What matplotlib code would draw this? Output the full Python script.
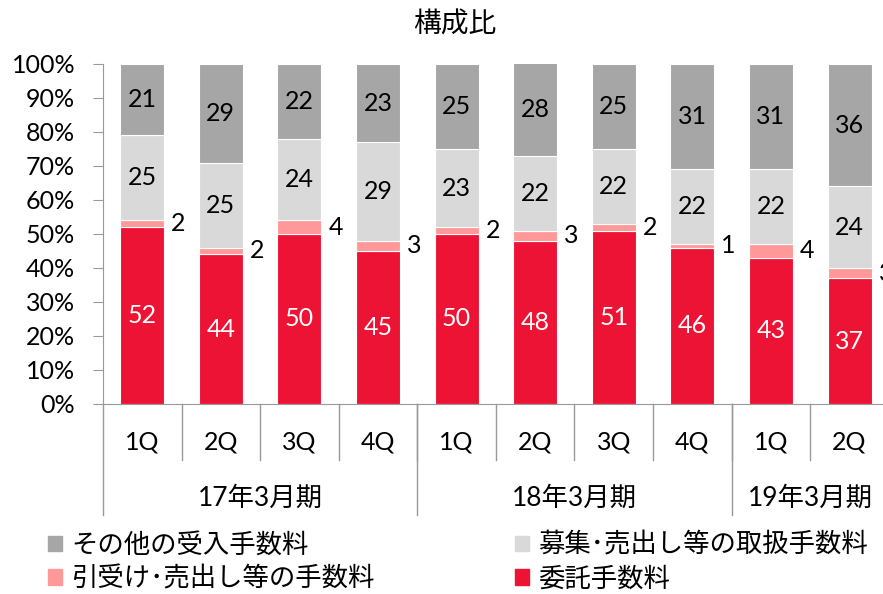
import matplotlib.pyplot as plt
import numpy as np
from matplotlib.patches import Patch
from matplotlib.transforms import blended_transform_factory

plt.rcParams['font.family'] = ['Lato', 'Noto Sans CJK JP']

# data
quarters = ['1Q', '2Q', '3Q', '4Q', '1Q', '2Q', '3Q', '4Q', '1Q', '2Q']
years = ['17年3月期', '18年3月期', '19年3月期']
year_sizes = [4, 4, 2]
itaku = [52, 44, 50, 45, 50, 48, 51, 46, 43, 37]      # 委託手数料
hikiuke = [2, 2, 4, 3, 2, 3, 2, 1, 4, 3]              # 引受け･売出し等の手数料
boshu = [25, 25, 24, 29, 23, 22, 22, 22, 22, 24]      # 募集･売出し等の取扱手数料
sonota = [21, 29, 22, 23, 25, 28, 25, 31, 31, 36]     # その他の受入手数料

c_itaku = '#EC1334'
c_hiki = '#FF9999'
c_boshu = '#D9D9D9'
c_sonota = '#A6A6A6'

num_fs = 18
jp_fs = 19

fig = plt.figure(figsize=(8.83, 5.94), dpi=100)
ax = fig.add_axes([0.1166, 0.3199, 0.890, 0.5724])

x = np.arange(len(quarters))
w = 0.56
a = np.array(itaku)
h = np.array(hikiuke)
b = np.array(boshu)
s = np.array(sonota)

kw = dict(width=w, edgecolor='white', linewidth=0.8)
b1 = ax.bar(x, a, color=c_itaku, **kw)
b2 = ax.bar(x, h, bottom=a, color=c_hiki, **kw)
b3 = ax.bar(x, b, bottom=a + h, color=c_boshu, **kw)
b4 = ax.bar(x, s, bottom=a + h + b, color=c_sonota, **kw)

ax.bar_label(b1, labels=[str(v) for v in itaku], label_type='center', color='white', fontsize=num_fs)
ax.bar_label(b3, labels=[str(v) for v in boshu], label_type='center', color='black', fontsize=num_fs)
ax.bar_label(b4, labels=[str(v) for v in sonota], label_type='center', color='black', fontsize=num_fs)
for i in range(len(x)):
    ax.annotate(str(hikiuke[i]), (x[i] + w / 2, a[i] + h[i] / 2), xytext=(5, 0),
                textcoords='offset points', ha='left', va='center', fontsize=num_fs,
                annotation_clip=False)

ax.set_xlim(-0.5, len(x) - 0.5)
ax.set_ylim(0, 100)
ax.set_yticks(range(0, 101, 10))
ax.set_yticklabels([f'{v}%' for v in range(0, 101, 10)], fontsize=num_fs)
ax.tick_params(axis='y', length=7, color='#999999', pad=13)
ax.spines['top'].set_visible(False)
ax.spines['right'].set_visible(False)
ax.spines['left'].set_color('#999999')
ax.spines['bottom'].set_color('#999999')
ax.set_xticks([])

# two-level x axis
tr = blended_transform_factory(ax.transData, ax.transAxes)
for i in range(1, len(x)):
    ax.plot([i - 0.5, i - 0.5], [0, -0.165], transform=tr, color='#999999', lw=1, clip_on=False)
for i, q in enumerate(quarters):
    ax.text(i, -0.112, q, transform=tr, ha='center', va='center', fontsize=num_fs)
start = 0
for yname, n in zip(years, year_sizes):
    ax.plot([start - 0.5, start - 0.5], [0, -0.326], transform=tr, color='#999999', lw=1, clip_on=False)
    ax.text(start + (n - 1) / 2, -0.276, yname, transform=tr, ha='center', va='center', fontsize=jp_fs)
    start += n

fig.text(0.515, 0.958, '構成比', ha='center', va='center', fontsize=20)

leg_kw = dict(frameon=False, fontsize=jp_fs, handlelength=0.55, handleheight=0.55,
              handletextpad=0.35, labelspacing=0.33, borderpad=0, borderaxespad=0)
fig.legend(handles=[Patch(color=c_sonota, label='その他の受入手数料'),
                    Patch(color=c_hiki, label='引受け･売出し等の手数料')],
           loc='upper left', bbox_to_anchor=(0.054, 0.103), **leg_kw)
fig.legend(handles=[Patch(color=c_boshu, label='募集･売出し等の取扱手数料'),
                    Patch(color=c_itaku, label='委託手数料')],
           loc='upper left', bbox_to_anchor=(0.583, 0.103), **leg_kw)

plt.savefig('out.png', dpi=100)
